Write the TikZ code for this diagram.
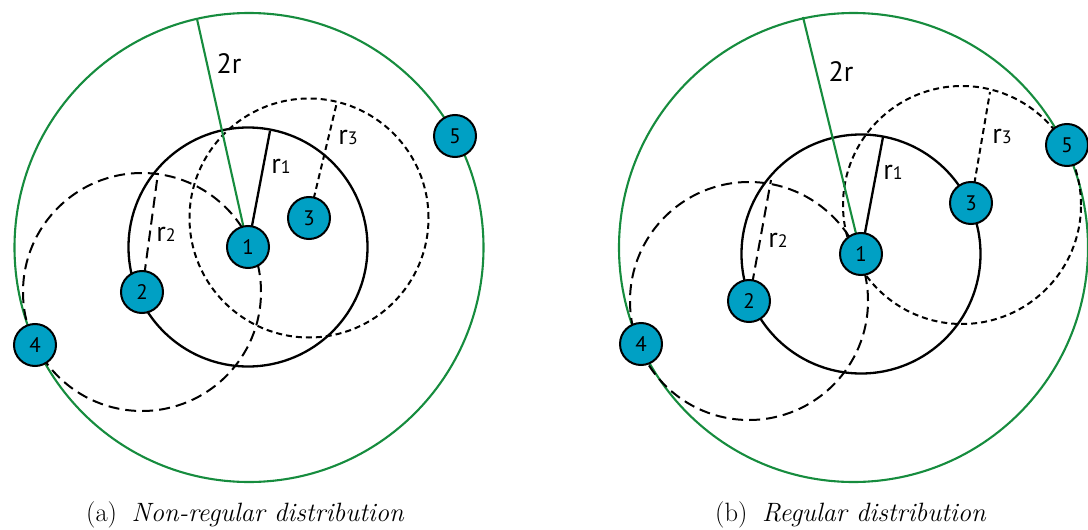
\documentclass[tikz,border=0pt]{standalone}
\usepackage{fontspec}
\setsansfont{PT Sans}
\usetikzlibrary{backgrounds}
\definecolor{nodeblue}{RGB}{0,160,196}
\definecolor{ringgreen}{RGB}{22,140,62}
\tikzset{
  sensor/.style={circle, draw=black, line width=2pt, fill=nodeblue, minimum size=42pt, inner sep=0pt, font=\sffamily\fontsize{21}{21}\selectfont},
  lbl/.style={font=\sffamily\fontsize{28}{28}\selectfont, inner sep=0pt},
  rangeg/.style={draw=ringgreen, line width=2.1pt},
  rangeb/.style={draw=black, line width=2.3pt},
  longdash/.style={draw=black, line width=2pt, dash pattern=on 11pt off 6pt},
  shortdash/.style={draw=black, line width=2pt, dash pattern=on 6pt off 4pt},
  captxt/.style={font=\fontsize{26.5}{30}\selectfont, inner sep=0pt, anchor=base west}
}
\newcommand{\subd}[1]{{\fontsize{18}{18}\selectfont #1}}
\begin{document}
\begin{tikzpicture}[x=1pt,y=-1pt]
\useasboundingbox (0,0) rectangle (1088,530);
% ---------- (a) non-regular ----------
\node[sensor] (a1) at (248,247) {1};
\node[sensor] (a2) at (142,292) {2};
\node[sensor] (a3) at (309,218) {3};
\node[sensor] (a4) at (35,345) {4};
\node[sensor] (a5) at (455,136) {5};
\coordinate (ga) at (249,247.5);
\coordinate (ag) at (197,19);
\coordinate (ar1) at (270,131);
\coordinate (ar2) at (158,173);
\coordinate (ar3) at (337,102);
\begin{scope}[on background layer]
  \draw[rangeg] (ga) circle[radius=234.5pt];
  \draw[rangeb] (a1.center) circle[radius=119.5pt];
  \draw[longdash] (a2.center) circle[radius=119pt];
  \draw[shortdash] (a3.center) circle[radius=119.5pt];
  \draw[rangeg] (a1.center) -- (ag);
  \draw[rangeb] (a1.center) -- (ar1);
  \draw[longdash] (a2.center) -- (ar2);
  \draw[shortdash] (a3.center) -- (ar3);
\end{scope}
\node[lbl] (la) at (229,64) {2r};
\node[lbl] (la1) at (281,166) {r\subd{1}};
\node[lbl] (la2) at (166,234) {r\subd{2}};
\node[lbl] (la3) at (348,137) {r\subd{3}};
\node[captxt] (capa) at (86,521) {(a)\hspace{.55em}\textit{Non-regular distribution}};
% ---------- (b) regular ----------
\node[sensor] (b1) at (861,254) {1};
\node[sensor] (b2) at (749,301) {2};
\node[sensor] (b3) at (971,203) {3};
\node[sensor] (b4) at (641,344) {4};
\node[sensor] (b5) at (1067,145) {5};
\coordinate (gb) at (853.5,247.5);
\coordinate (cb3) at (962,205);
\coordinate (bg) at (803,17);
\coordinate (br1) at (883,137);
\coordinate (br2) at (771,180);
\coordinate (br3) at (990,92);
\begin{scope}[on background layer]
  \draw[rangeg] (gb) circle[radius=234.5pt];
  \draw[rangeb] (b1.center) circle[radius=119.5pt];
  \draw[longdash] (b2.center) circle[radius=119pt];
  \draw[shortdash] (cb3) circle[radius=119pt];
  \draw[rangeg] (b1.center) -- (bg);
  \draw[rangeb] (b1.center) -- (br1);
  \draw[longdash] (b2.center) -- (br2);
  \draw[shortdash] (b3.center) -- (br3);
\end{scope}
\node[lbl] (lb) at (841,72) {2r};
\node[lbl] (lb1) at (893,172) {r\subd{1}};
\node[lbl] (lb2) at (778,240) {r\subd{2}};
\node[lbl] (lb3) at (1002,136) {r\subd{3}};
\node[captxt] (capb) at (715,521) {(b)\hspace{.55em}\textit{Regular distribution}};
\end{tikzpicture}
\end{document}
